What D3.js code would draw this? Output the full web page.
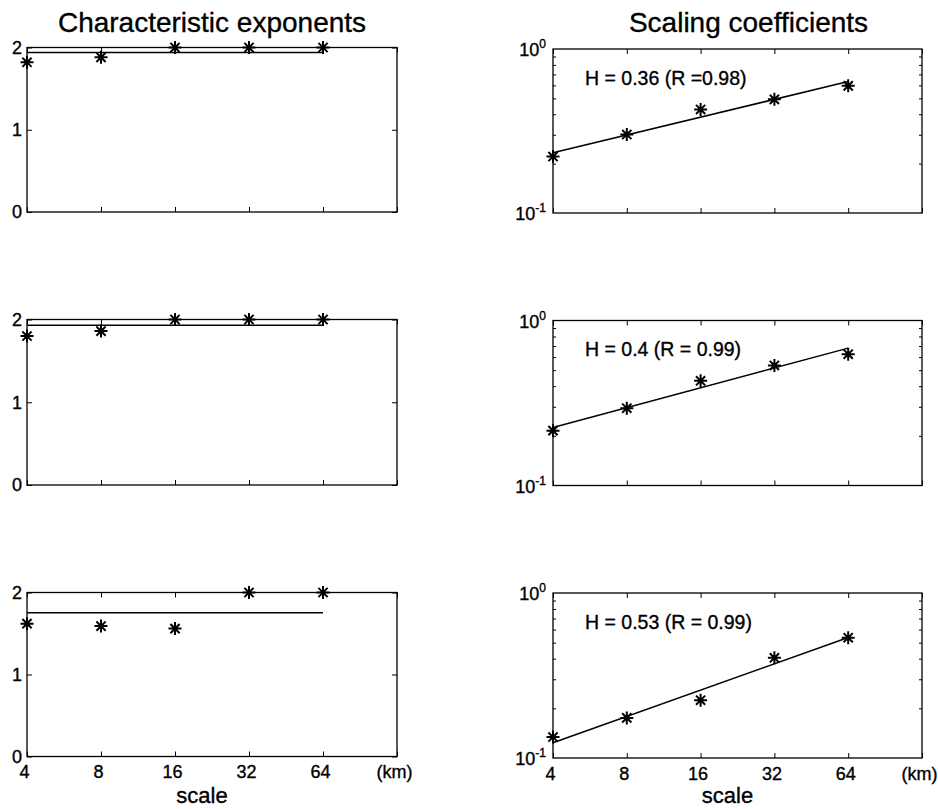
<!DOCTYPE html>
<html>
<head>
<meta charset="utf-8">
<script src="https://cdn.jsdelivr.net/npm/d3@7"></script>
<style>
  html, body { margin: 0; padding: 0; background: #fff; }
  svg text { font-family: "Liberation Sans", Arial, Helvetica, sans-serif; fill: #000; stroke: #000; stroke-width: 0.35px; }
</style>
</head>
<body>
<svg id="fig" width="938" height="809"></svg>
<script>
// Spatial scales (km) and per-scale estimates for three data sets
const scales = [4, 8, 16, 32, 64];
const alphaTop = [1.82, 1.88, 2.0, 2.0, 2.0];
const alphaMid = [1.80, 1.86, 2.0, 2.0, 2.0];
const alphaBot = [1.62, 1.59, 1.56, 2.0, 2.0];
const coefTop = [0.221, 0.301, 0.428, 0.493, 0.596];
const coefMid = [0.215, 0.294, 0.431, 0.534, 0.625];
const coefBot = [0.134, 0.175, 0.224, 0.405, 0.536];
const hurst = [0.36, 0.4, 0.53];
const fitLabels = ["H = 0.36 (R =0.98)", "H = 0.4 (R = 0.99)", "H = 0.53 (R = 0.99)"];
const xTickValues = [4, 8, 16, 32, 64, 128];
const xTickLabels = ["4", "8", "16", "32", "64", "(km)"];
const alphaTicks = [0, 1, 2];
const coefMinorTicks = [0.2, 0.3, 0.4, 0.5, 0.6, 0.7, 0.8, 0.9];
const titles = ["Characteristic exponents", "Scaling coefficients"];
const xLabel = "scale";

const alphaSets = [alphaTop, alphaMid, alphaBot];
const coefSets = [coefTop, coefMid, coefBot];

const svg = d3.select("#fig");
svg.append("rect").attr("width", 938).attr("height", 809).attr("fill", "#fff");

// panel frames: [left, right] per column, [top, bottom] per row
const colX = [[27, 397], [553, 922]];
const rowY = [
  [[47.5, 212], [319.5, 485], [592.5, 756.5]],
  [[49, 213], [320.5, 485.5], [593, 758]]
];
const tickLen = 5, minorLen = 3;

function asterisk(g, cx, cy, r) {
  const d = r * Math.SQRT1_2;
  const p = `M${cx - r},${cy}L${cx + r},${cy}M${cx},${cy - r}L${cx},${cy + r}` +
            `M${cx - d},${cy - d}L${cx + d},${cy + d}M${cx - d},${cy + d}L${cx + d},${cy - d}`;
  g.append("path").attr("d", p).attr("stroke", "#000").attr("stroke-width", 2).attr("fill", "none");
}

function frame(g, x, y) {
  const [x0, x1] = x.range(), [y0, y1] = [y.range()[1], y.range()[0]];
  g.append("rect").attr("x", x0).attr("y", y0).attr("width", x1 - x0).attr("height", y1 - y0)
    .attr("fill", "none").attr("stroke", "#000").attr("stroke-width", 1.3);
}

function xAxes(g, x, y, withLabels) {
  const [yTop, yBot] = [y.range()[1], y.range()[0]];
  const bottom = d3.axisBottom(x).tickValues(xTickValues).tickSize(-tickLen).tickSizeOuter(0)
    .tickPadding(9).tickFormat((d, i) => withLabels ? xTickLabels[i] : "");
  const top = d3.axisTop(x).tickValues(xTickValues).tickSize(-tickLen).tickSizeOuter(0).tickFormat("");
  const gb = g.append("g").attr("transform", `translate(0,${yBot})`).call(bottom);
  const gt = g.append("g").attr("transform", `translate(0,${yTop})`).call(top);
  [gb, gt].forEach(a => { a.select(".domain").remove(); a.selectAll("line").attr("stroke", "#000"); });
  gb.selectAll("text").attr("font-size", 18).attr("dy", "0.71em").attr("dx", -3)
    .attr("font-family", "Liberation Sans, Arial, sans-serif");
}

// left column: characteristic exponents (linear scale)
alphaSets.forEach((vals, row) => {
  const [yt, yb] = rowY[0][row];
  const x = d3.scaleLog().base(2).domain([4, 128]).range(colX[0]);
  const y = d3.scaleLinear().domain([0, 2]).range([yb, yt]);
  const g = svg.append("g");

  const left = d3.axisLeft(y).tickValues(alphaTicks).tickSize(-tickLen).tickSizeOuter(0).tickPadding(5)
    .tickFormat(d3.format("d"));
  const right = d3.axisRight(y).tickValues(alphaTicks).tickSize(-tickLen).tickSizeOuter(0).tickFormat("");
  const gl = g.append("g").attr("transform", `translate(${colX[0][0]},0)`).call(left);
  const gr = g.append("g").attr("transform", `translate(${colX[0][1]},0)`).call(right);
  [gl, gr].forEach(a => { a.select(".domain").remove(); a.selectAll("line").attr("stroke", "#000"); });
  gl.selectAll("text").attr("font-size", 18).attr("font-family", "Liberation Sans, Arial, sans-serif");

  xAxes(g, x, y, row === 2);
  frame(g, x, y);

  // mean exponent across scales
  const m = d3.mean(vals);
  g.append("line").attr("x1", x(scales[0])).attr("x2", x(scales[scales.length - 1]))
    .attr("y1", y(m)).attr("y2", y(m)).attr("stroke", "#000").attr("stroke-width", 1.5);

  vals.forEach((v, i) => asterisk(g, x(scales[i]), y(v), 6.5));
});

// right column: scaling coefficients (log scale) with power-law fit
coefSets.forEach((vals, row) => {
  const [yt, yb] = rowY[1][row];
  const x = d3.scaleLog().base(2).domain([4, 128]).range(colX[1]);
  const y = d3.scaleLog().domain([0.1, 1]).range([yb, yt]);
  const g = svg.append("g");

  const left = d3.axisLeft(y).tickValues(coefMinorTicks).tickSize(-minorLen).tickSizeOuter(0).tickFormat("");
  const right = d3.axisRight(y).tickValues(coefMinorTicks).tickSize(-minorLen).tickSizeOuter(0).tickFormat("");
  const gl = g.append("g").attr("transform", `translate(${colX[1][0]},0)`).call(left);
  const gr = g.append("g").attr("transform", `translate(${colX[1][1]},0)`).call(right);
  [gl, gr].forEach(a => { a.select(".domain").remove(); a.selectAll("line").attr("stroke", "#000"); });

  // decade labels 10^0 and 10^-1
  [[1, "0"], [0.1, "-1"]].forEach(([v, e]) => {
    const t = g.append("text").attr("x", colX[1][0] - 7).attr("y", y(v) + 7)
      .attr("text-anchor", "end").attr("font-size", 18);
    t.append("tspan").text("10");
    t.append("tspan").attr("font-size", 12).attr("dy", -8).text(e);
  });

  xAxes(g, x, y, row === 2);
  frame(g, x, y);

  // least-squares line in log-log space with slope H through the centroid
  const lx = scales.map(Math.log10), ly = vals.map(Math.log10);
  const mx = d3.mean(lx), my = d3.mean(ly), H = hurst[row];
  const fit = s => Math.pow(10, my + H * (Math.log10(s) - mx));
  const line = d3.line().x(d => x(d)).y(d => y(fit(d)));
  g.append("path").attr("d", line([scales[0], scales[scales.length - 1]]))
    .attr("stroke", "#000").attr("stroke-width", 1.5).attr("fill", "none");

  vals.forEach((v, i) => asterisk(g, x(scales[i]), y(v), 6.5));

  g.append("text").attr("x", colX[1][0] + 32).attr("y", yt + 35.5)
    .attr("font-size", 19.5).text(fitLabels[row]);
});

// column titles and x-axis labels
titles.forEach((t, c) => {
  const cx = (colX[c][0] + colX[c][1]) / 2 + (c === 1 ? 11 : 0);
  svg.append("text").attr("x", cx).attr("y", 32).attr("text-anchor", "middle")
    .attr("font-size", 28).text(t);
  svg.append("text").attr("x", cx - 10 - (c === 1 ? 11 : 0)).attr("y", 803).attr("text-anchor", "middle")
    .attr("font-size", 22).text(xLabel);
});
</script>
</body>
</html>
